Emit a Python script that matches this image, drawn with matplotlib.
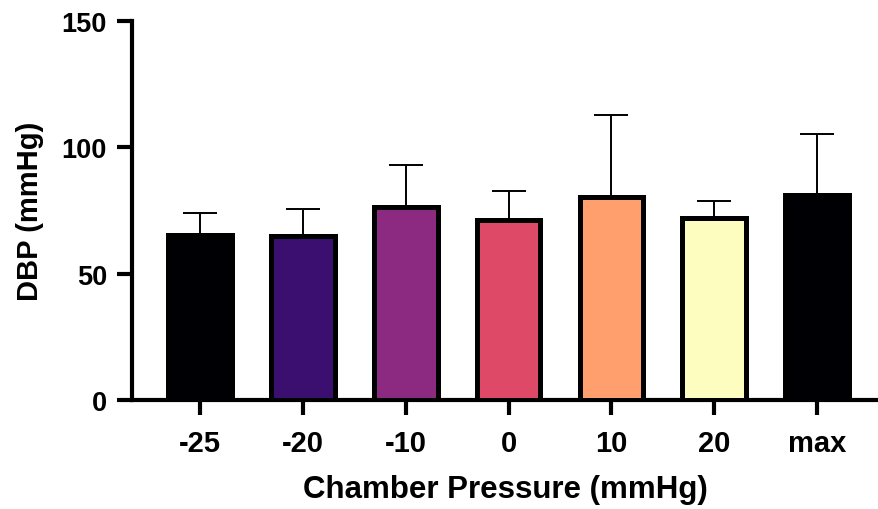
import matplotlib.pyplot as plt

plt.rcParams['font.family'] = ['Liberation Sans', 'DejaVu Sans']
plt.rcParams['font.weight'] = 'bold'

categories = ['-25', '-20', '-10', '0', '10', '20', 'max']
means = [65.5, 64.8, 76.2, 71.2, 80.4, 71.9, 81.0]
sd = [8.7, 10.6, 16.7, 11.5, 32.2, 6.7, 24.3]
colors = ['#000004', '#3b0f70', '#8c2981', '#de4968', '#fe9f6d', '#fcfdbf', '#000004']

fig = plt.figure(figsize=(8.79, 5.10), dpi=100)
ax = fig.add_axes([132/879, 109/510, 746/879, 379/510])

x = range(len(categories))
ax.bar(x, means, width=0.62, color=colors, edgecolor='black', linewidth=3.6, zorder=3)
ax.errorbar(x, means, yerr=[[0]*len(sd), sd], fmt='none', ecolor='black',
            elinewidth=1.4, capsize=12, capthick=1.4, zorder=2)

ax.set_xlim(-0.66, 6.59)
ax.set_ylim(0, 150)
ax.set_yticks([0, 50, 100, 150])
ax.set_xticks(list(x))
ax.set_xticklabels(categories)
ax.tick_params(axis='y', labelsize=19.5, length=11, width=3, pad=7)
ax.tick_params(axis='x', labelsize=21, length=11, width=3, pad=10)

for s in ['top', 'right']:
    ax.spines[s].set_visible(False)
for s in ['left', 'bottom']:
    ax.spines[s].set_linewidth(3)

ax.set_xlabel('Chamber Pressure (mmHg)', fontsize=22.5, fontweight='bold', labelpad=12)
ax.set_ylabel('DBP (mmHg)', fontsize=21, fontweight='bold', labelpad=13)

fig.savefig('out.png', dpi=100)
